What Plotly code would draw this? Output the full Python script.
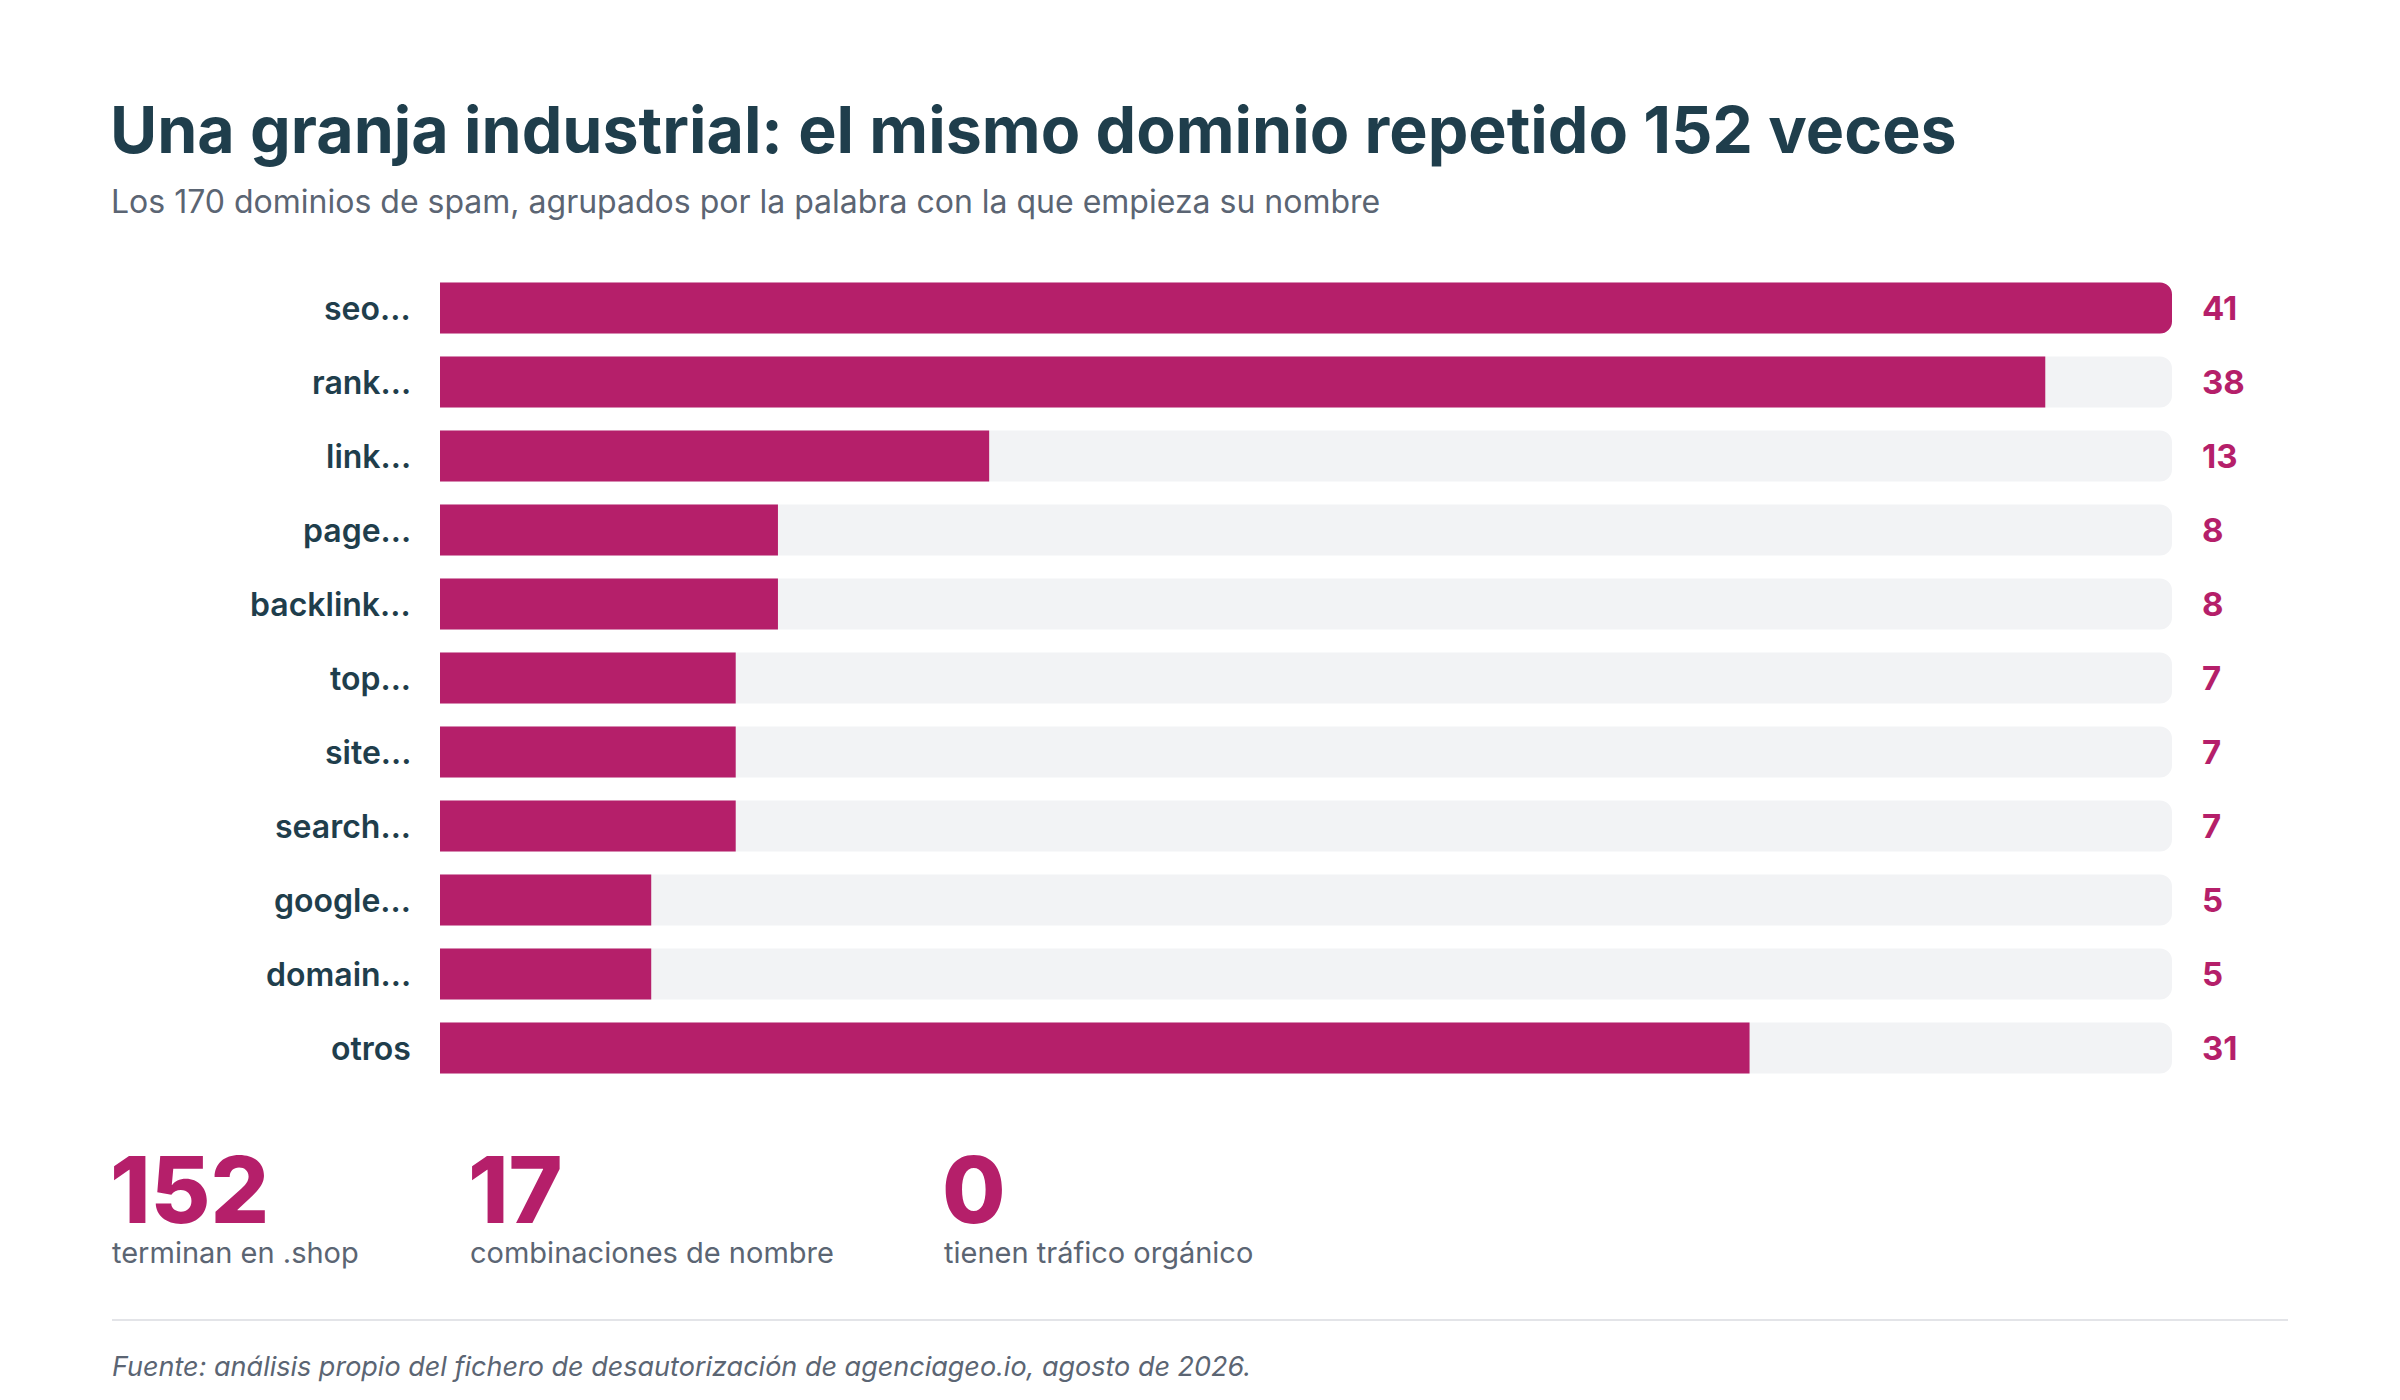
import plotly.graph_objects as go

# ---- data ----
categories = ["seo...", "rank...", "link...", "page...", "backlink...", "top...",
              "site...", "search...", "google...", "domain...", "otros"]
counts = [41, 38, 13, 8, 8, 7, 7, 7, 5, 5, 31]

stat_values = ["152", "17", "0"]
stat_labels = ["terminan en .shop", "combinaciones de nombre", "tienen tráfico orgánico"]

title_text = "Una granja industrial: el mismo dominio repetido 152 veces"
subtitle_text = "Los 170 dominios de spam, agrupados por la palabra con la que empieza su nombre"
source_text = "Fuente: análisis propio del fichero de desautorización de agenciageo.io, agosto de 2026."

# ---- style ----
OFF = 8                      # page body margin in the browser
W, H = 2400 - OFF, 1400 - OFF
L, R, T, B = 440 - OFF, 2172 - OFF, 271 - OFF, 1085 - OFF
MAGENTA = "#b51f6a"
TRACK = "#f2f3f5"
DARK = "#1f3e4c"
GRAY = "#5b6573"
FONT = "Inter"


def px(x):
    return (x - OFF - L) / (R - L)


def py(y):
    return (B - (y - OFF)) / (B - T)


track_max = max(counts)

fig = go.Figure()
fig.add_trace(go.Bar(
    y=categories, x=[track_max] * len(categories), orientation="h",
    marker=dict(color=TRACK, line=dict(width=0)), hoverinfo="skip", showlegend=False,
))
fig.add_trace(go.Bar(
    y=categories, x=counts, orientation="h",
    marker=dict(color=MAGENTA, line=dict(width=0)), hoverinfo="skip", showlegend=False,
))

annotations = []
# category labels and values
for cat, v in zip(categories, counts):
    annotations.append(dict(
        x=0, y=cat, xref="x", yref="y", text=cat, showarrow=False,
        xanchor="right", yanchor="middle", xshift=-27,
        font=dict(family=FONT, size=32, color=DARK, weight=600),
    ))
    annotations.append(dict(
        x=track_max, y=cat, xref="x", yref="y", text=str(v), showarrow=False,
        xanchor="left", yanchor="middle", xshift=28,
        font=dict(family=FONT, size=33, color=MAGENTA, weight=700),
    ))

# title & subtitle
annotations.append(dict(
    x=px(108), y=py(130), xref="paper", yref="paper", text=title_text, showarrow=False,
    xanchor="left", yanchor="middle",
    font=dict(family=FONT, size=64.5, color=DARK, weight=700),
))
annotations.append(dict(
    x=px(109), y=py(202), xref="paper", yref="paper", text=subtitle_text, showarrow=False,
    xanchor="left", yanchor="middle",
    font=dict(family=FONT, size=32, color=GRAY),
))

# stats
stat_x = [108, 466, 940]
for sx, val, lab in zip(stat_x, stat_values, stat_labels):
    annotations.append(dict(
        x=px(sx), y=py(1189), xref="paper", yref="paper", text=val, showarrow=False,
        xanchor="left", yanchor="middle", height=84,
        font=dict(family=FONT, size=92, color=MAGENTA, weight=800),
    ))
    annotations.append(dict(
        x=px(sx + 2), y=py(1252), xref="paper", yref="paper", text=lab, showarrow=False,
        xanchor="left", yanchor="middle",
        font=dict(family=FONT, size=29, color=GRAY),
    ))

# source
annotations.append(dict(
    x=px(110), y=py(1366), xref="paper", yref="paper", text=source_text, showarrow=False,
    xanchor="left", yanchor="middle",
    font=dict(family=FONT, size=27, color=GRAY, style="italic"),
))

shapes = [dict(
    type="line", xref="paper", yref="paper",
    x0=px(112), x1=px(2288), y0=py(1320), y1=py(1320),
    line=dict(color="#e3e4e8", width=2),
)]

fig.update_layout(
    width=W, height=H,
    margin=dict(l=L, r=W - R, t=T, b=H - B, pad=0),
    paper_bgcolor="white", plot_bgcolor="white",
    barmode="overlay", bargap=0.31, barcornerradius=12,
    xaxis=dict(range=[0, track_max], showgrid=False, zeroline=False,
               showticklabels=False, showline=False, fixedrange=True),
    yaxis=dict(categoryorder="array", categoryarray=categories, autorange="reversed",
               showgrid=False, zeroline=False, showticklabels=False, showline=False,
               fixedrange=True),
    annotations=annotations, shapes=shapes,
    font=dict(family=FONT),
    hovermode=False,
)

fig.write_html("out.html", config={"displayModeBar": False})
